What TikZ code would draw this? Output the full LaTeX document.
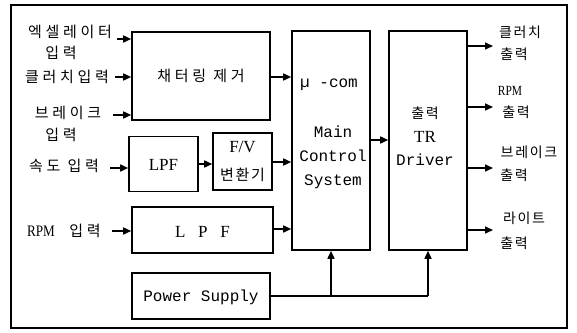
\documentclass[tikz,border=0pt]{standalone}
\usepackage{fontspec}
\setmainfont{Liberation Serif}
\newfontfamily\krL[LetterSpace=25]{Noto Sans CJK KR}
\newfontfamily\krR[LetterSpace=12]{Noto Sans CJK KR}
\newfontfamily\mono{Liberation Mono}
\newfontfamily\cond[FakeStretch=0.82]{Liberation Serif}
\usetikzlibrary{arrows.meta}
\tikzset{
  box/.style={draw, line width=1.6pt, inner sep=0pt},
  arr/.style={line width=1.6pt, -{Triangle[length=8pt,width=7pt]}},
  pline/.style={line width=1.6pt},
  kl/.style={font=\fontsize{15}{15}\selectfont\krL, inner sep=0pt},
  kr/.style={font=\fontsize{14}{14}\selectfont\krR, inner sep=0pt},
  ser/.style={font=\fontsize{17}{17}\selectfont, inner sep=0pt},
  cser/.style={font=\fontsize{16}{16}\selectfont\cond, inner sep=0pt},
  mon/.style={font=\fontsize{16}{16}\selectfont\mono, inner sep=0pt},
}
\begin{document}
\begin{tikzpicture}[x=1pt,y=-1pt]
\useasboundingbox (0,0) rectangle (577,332);
\draw[line width=1.3pt] (11,5) rectangle (567,328);

% boxes
\node[box, minimum width=138pt, minimum height=88pt] (chat) at (201,76) {\fontsize{15}{15}\selectfont\krL 채터링 제거};
\node[box, minimum width=69pt, minimum height=55pt] (lpfa) at (163.5,164) {};
\node[ser] (lpfat) at (163.5,165) {LPF};
\node[box, minimum width=59pt, minimum height=57pt] (fv) at (242.5,161.5) {};
\node[ser] (fvt) at (242.5,147) {F/V};
\node[kl, font=\fontsize{15}{15}\selectfont\krR] (fvk) at (242.5,175) {변환기};
\node[box, minimum width=141pt, minimum height=46pt] (lpfb) at (202.5,230) {};
\node[ser] (lpft) at (202.5,232) {L\ \ \ P\ \ \ F};
\node[box, minimum width=138pt, minimum height=46pt] (pwr) at (201,296) {};
\node[mon] (pwrt) at (201,297) {Power Supply};
\node[box, minimum width=78pt, minimum height=219pt] (main) at (331,140.5) {};
\node[mon] (mc1) at (329,85) {µ -com};
\node[mon, align=center] (mc2) at (333,157) {Main\\[8pt]Control\\[8pt]System};
\node[box, minimum width=78pt, minimum height=219pt] (drv) at (428,140.5) {};
\node[kr] (d1) at (425,113) {출력};
\node[ser] (d2) at (425,137) {TR};
\node[mon] (d3) at (425,160) {Driver};

% left labels
\node[kl] (l1) at (70,32) {엑셀레이터};
\node[kl] (l1b) at (61,53) {입력};
\node[kl] (l2) at (67,77) {클러치입력};
\node[kl] (l3) at (68,113) {브레이크};
\node[kl] (l3b) at (61,135) {입력};
\node[kl] (l4) at (64,166) {속도 입력};
\node[cser] (l5a) at (41,231) {RPM};
\node[kl] (l5b) at (85,231) {입력};

% right labels
\node[kr] (r1) at (520,32) {클러치};
\node[kr] (r1b) at (514,54) {출력};
\node[cser, font=\fontsize{14}{14}\selectfont\cond] (r2) at (510,91) {RPM};
\node[kr] (r2b) at (516,112) {출력};
\node[kr] (r3) at (529,152) {브레이크};
\node[kr] (r3b) at (514,175) {출력};
\node[kr] (r4) at (524,218) {라이트};
\node[kr] (r4b) at (514,243) {출력};

% input arrows
\coordinate (a1) at (117,39);
\coordinate (a2) at (115,77);
\coordinate (a3) at (113,115);
\coordinate (a4) at (110,168);
\coordinate (a5) at (112,231);
\draw[arr] (a1) -- (a1 -| chat.west);
\draw[arr] (a2) -- (a2 -| chat.west);
\draw[arr] (a3) -- (a3 -| chat.west);
\draw[arr] (a4) -- (a4 -| lpfa.west);
\draw[arr] (a5) -- (a5 -| lpfb.west);

% internal arrows
\coordinate (b1) at (0,77);
\coordinate (b2) at (0,164);
\coordinate (b3) at (0,162);
\coordinate (b4) at (0,229);
\coordinate (b5) at (0,140);
\draw[arr] (chat.east |- b1) -- (main.west |- b1);
\draw[arr] (lpfa.east |- b2) -- (fv.west |- b2);
\draw[arr] (fv.east |- b3) -- (main.west |- b3);
\draw[arr] (lpfb.east |- b4) -- (main.west |- b4);
\draw[arr] (main.east |- b5) -- (drv.west |- b5);

% output arrows
\coordinate (o1) at (493,46);
\coordinate (o2) at (493,107);
\coordinate (o3) at (493,168);
\coordinate (o4) at (493,230);
\draw[arr] (o1 -| drv.east) -- (o1);
\draw[arr] (o2 -| drv.east) -- (o2);
\draw[arr] (o3 -| drv.east) -- (o3);
\draw[arr] (o4 -| drv.east) -- (o4);

% power supply
\coordinate (pj) at (drv.south |- pwr.east);
\draw[pline] (pwr.east) -- (pj);
\draw[arr] (main.south |- pwr.east) -- (main.south);
\draw[arr] (pj) -- (drv.south);
\end{tikzpicture}
\end{document}
